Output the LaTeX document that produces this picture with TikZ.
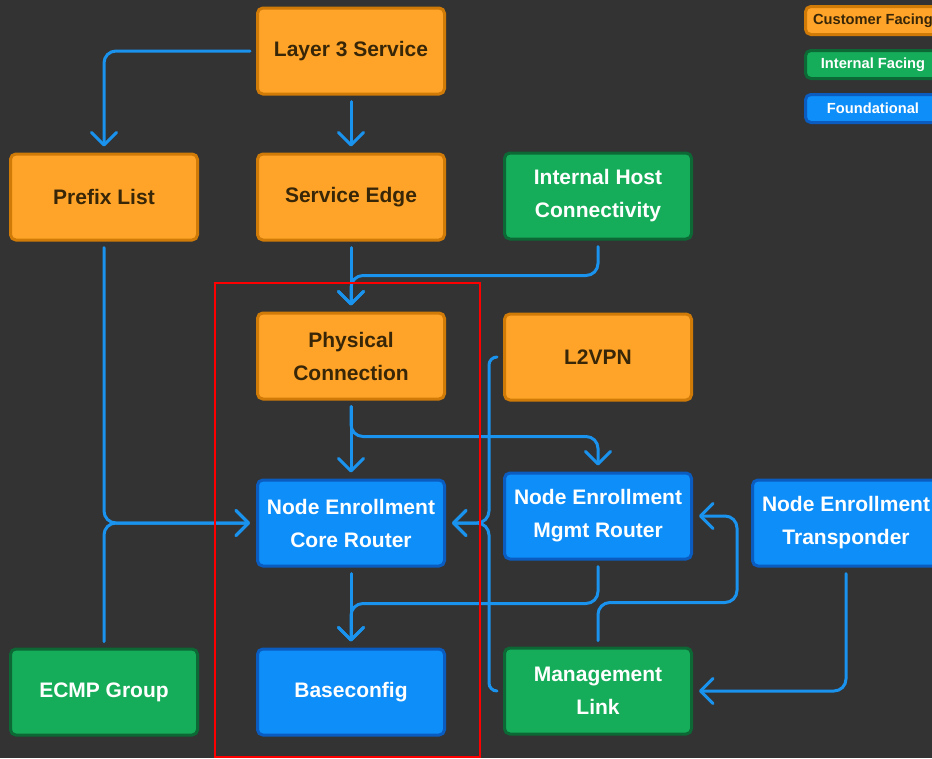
\documentclass[tikz,border=0pt]{standalone}
\usepackage{fontspec}
\setmainfont{Liberation Sans}
\usetikzlibrary{arrows.meta}
\definecolor{bg}{RGB}{51,51,51}
\definecolor{custfill}{RGB}{255,164,40}
\definecolor{custline}{RGB}{208,122,8}
\definecolor{custtext}{RGB}{56,38,8}
\definecolor{intlfill}{RGB}{22,173,90}
\definecolor{intlline}{RGB}{12,104,52}
\definecolor{foundfill}{RGB}{14,142,248}
\definecolor{foundline}{RGB}{10,92,192}
\definecolor{linkc}{RGB}{26,147,238}
\tikzset{
  box/.style={draw, line width=2.25pt, rounded corners=4pt,
    minimum width=140.25pt, minimum height=64.5pt, align=center,
    font=\bfseries\fontsize{15.75}{24.75}\selectfont},
  cust/.style={box, fill=custfill, draw=custline, text=custtext},
  intl/.style={box, fill=intlfill, draw=intlline, text=white},
  found/.style={box, fill=foundfill, draw=foundline, text=white},
  key/.style={minimum width=101.25pt, minimum height=21pt,
    font=\bfseries\fontsize{11}{12}\selectfont},
  link/.style={draw=linkc, line width=2.25pt, line cap=round,
    rounded corners=9pt, shorten <=4.5pt, shorten >=4.5pt,
    -{Straight Barb[round, length=9.5pt, width=19pt]}}
}
\begin{document}
\begin{tikzpicture}[x=0.75pt, y=-0.75pt]
      \useasboundingbox (0,0) rectangle (932,758);
      \fill[bg] (0,0) rectangle (932,758);
      \draw
        (351,51) node[cust] (l3) {Layer 3 Service}
        (104,197) node[cust] (pfx) {Prefix List}
        (351,197) node[cust] (se) {Service Edge}
        (598,196) node[intl] (ihc) {Internal Host\\Connectivity}
        (351,356) node[cust] (phy) {Physical\\Connection}
        (598,357) node[cust] (l2) {L2VPN}
        (351,523) node[found] (ncore) {Node Enrollment\\Core Router}
        (598,516) node[found] (nmgmt) {Node Enrollment\\Mgmt Router}
        (846,523) node[found] (ntrans) {Node Enrollment\\Transponder}
        (104,692) node[intl] (ecmp) {ECMP Group}
        (351,692) node[found] (base) {Baseconfig}
        (598,691) node[intl] (mlink) {Management\\Link};
      % legend
      \draw
        (873,20.5) node[cust, key] (kcust) {Customer Facing}
        (873,64.5) node[intl, key] (kintl) {Internal Facing}
        (873,108.5) node[found, key] (kfound) {Foundational};
      \begin{scope}[link]
        \draw (l3.west) -| (pfx.north);
        \draw (l3.south) to (se.north);
        \draw (se.south) to (phy.north);
        \draw (ihc.south) -- ++(0,35) -| (phy.north);
        \draw (phy.south) to (ncore.north);
        \draw (phy.south) -- ++(0,36) -| (nmgmt.north);
        \draw (pfx.south) |- (ncore.west);
        \draw (ecmp.north) |- (ncore.west);
        \draw (l2.west) [rounded corners=6pt] -- ++(-14,0)
          [rounded corners=9pt] |- (ncore.east);
        \draw (mlink.west) [rounded corners=6pt] -- ++(-14,0)
          [rounded corners=9pt] |- (ncore.east);
        \draw (ncore.south) to (base.north);
        \draw (nmgmt.south) -- ++(0,43) -| (base.north);
        \draw (mlink.north) |- ++(139,-44) |- (nmgmt.east);
        \draw (ntrans.south) |- (mlink.east);
      \end{scope}
      % frame
      \draw[red, line width=1.1pt] (215,283) rectangle (480,757);
    \end{tikzpicture}
\end{document}
